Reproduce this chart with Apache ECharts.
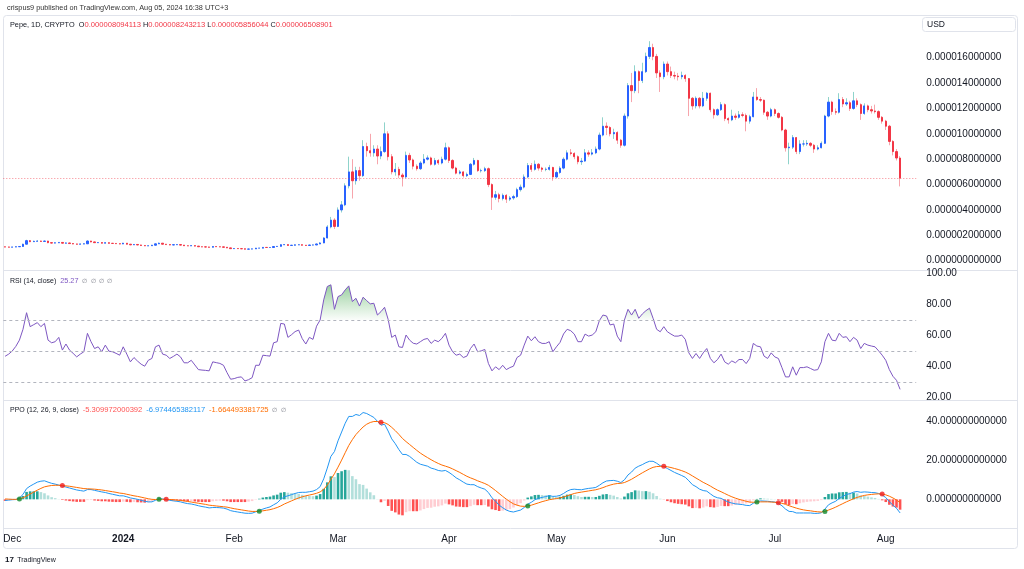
<!DOCTYPE html>
<html>
<head>
<meta charset="utf-8">
<script src="https://cdn.jsdelivr.net/npm/echarts@6/dist/echarts.min.js"></script>
<style>
html,body{margin:0;padding:0;background:#fff;}
#chart{width:1024px;height:569px;}
</style>
</head>
<body>
<div id="chart"></div>
<script>
// ---- Data (prices in micro-USD, i.e. value x 1e-6 USD) ----
const firstDay = '2023-11-29';
const axisDays = 255; // 251 daily candles + empty right margin

const opens = [1.09,1.08,1.07,1.08,1.10,1.12,1.30,1.58,1.50,1.53,
1.55,1.52,1.55,1.42,1.39,1.41,1.44,1.38,1.40,1.35,
1.32,1.30,1.32,1.33,1.55,1.48,1.42,1.43,1.38,1.42,
1.37,1.36,1.34,1.32,1.38,1.30,1.25,1.28,1.24,1.20,
1.17,1.18,1.22,1.33,1.38,1.30,1.27,1.24,1.26,1.27,
1.23,1.18,1.17,1.19,1.15,1.10,1.09,1.08,1.06,1.12,
1.10,1.09,1.06,1.01,0.95,0.96,0.95,0.94,0.91,0.92,
0.93,0.99,0.99,1.05,1.04,1.04,1.12,1.13,1.26,1.27,
1.20,1.22,1.25,1.26,1.22,1.20,1.24,1.24,1.32,1.40,
1.79,2.66,3.20,2.70,4.00,4.40,5.90,7.00,6.30,7.10,
6.70,9.00,8.67,8.50,8.80,8.25,8.60,10.00,8.20,7.00,
7.20,6.75,6.60,8.30,7.94,7.45,7.25,7.70,8.00,8.10,
7.60,7.90,7.70,8.00,8.90,7.90,7.30,6.90,7.00,6.70,
6.80,7.60,7.90,7.10,7.10,7.25,6.00,5.00,5.20,4.90,
5.15,4.85,4.95,5.05,5.60,5.80,6.60,7.50,7.20,7.60,
7.30,7.20,7.20,7.35,6.60,6.95,7.30,8.00,8.50,8.45,
8.20,7.80,7.85,8.50,8.40,8.50,8.80,9.90,10.60,10.50,
10.00,10.10,9.50,9.10,11.40,13.80,13.40,14.90,14.20,14.90,
16.10,16.80,16.10,14.80,14.50,15.50,14.90,14.60,14.55,14.50,
14.60,14.35,12.80,12.20,12.80,12.20,12.80,13.20,11.90,11.50,
11.90,12.30,11.20,11.10,11.40,11.30,11.50,11.45,11.00,11.35,
12.90,12.70,12.65,11.70,11.40,11.90,11.60,11.30,10.30,8.90,
8.95,9.70,8.60,9.20,9.20,9.25,9.10,8.80,8.90,9.25,
11.40,12.50,11.75,11.70,12.70,12.35,12.45,12.00,12.60,12.30,
11.60,12.20,11.90,11.80,11.75,11.30,11.00,10.60,9.40,8.60,
8.094113];

const highs = [1.11,1.10,1.10,1.12,1.15,1.34,1.65,1.63,1.58,1.62,
1.58,1.59,1.57,1.45,1.44,1.47,1.46,1.43,1.42,1.37,
1.34,1.35,1.36,1.60,1.57,1.50,1.47,1.45,1.45,1.44,
1.40,1.38,1.36,1.41,1.39,1.32,1.31,1.30,1.26,1.22,
1.21,1.25,1.36,1.43,1.39,1.32,1.29,1.28,1.30,1.29,
1.24,1.20,1.22,1.20,1.16,1.12,1.11,1.10,1.14,1.13,
1.12,1.10,1.07,1.02,0.98,0.98,0.97,0.95,0.94,0.95,
1.01,1.02,1.07,1.07,1.06,1.14,1.16,1.30,1.31,1.28,
1.25,1.28,1.29,1.27,1.24,1.26,1.27,1.35,1.46,1.85,
2.80,3.45,3.35,4.20,4.70,6.10,8.20,8.00,7.40,7.40,
9.50,9.30,10.00,9.10,9.10,9.00,10.90,10.20,8.40,7.70,
7.40,6.90,8.60,8.50,8.05,7.60,7.85,8.40,8.30,8.20,
8.10,8.00,8.20,9.30,9.00,8.00,7.40,7.15,7.05,6.95,
7.70,8.10,7.95,7.25,7.40,7.35,6.10,5.50,5.35,5.30,
5.25,5.10,5.20,5.75,6.00,6.80,7.70,7.70,7.90,7.70,
7.40,7.35,7.55,7.40,7.10,7.45,8.15,8.70,8.80,8.55,
8.30,8.10,8.80,8.70,8.80,9.00,10.10,11.30,10.90,10.60,
10.40,10.20,9.60,11.60,14.00,14.80,15.40,15.00,15.60,16.40,
17.30,17.10,16.30,15.00,15.70,15.70,15.30,14.90,14.80,14.90,
14.70,14.40,12.90,12.95,12.90,13.30,13.30,13.25,12.00,12.00,
12.50,12.40,11.30,11.90,11.60,11.80,11.70,11.60,11.50,13.30,
13.60,12.90,12.70,11.80,12.05,12.00,11.70,11.40,10.40,9.30,
9.90,9.75,9.50,9.50,9.50,9.35,9.20,9.10,9.40,11.50,
12.90,12.60,12.00,13.20,12.90,12.80,12.60,13.30,12.80,12.40,
12.40,12.30,12.20,12.30,11.85,11.40,11.10,10.70,9.50,8.80,
8.243213];

const lows = [1.06,1.05,1.06,1.07,1.09,1.11,1.28,1.46,1.47,1.50,
1.48,1.49,1.38,1.36,1.37,1.39,1.36,1.36,1.33,1.30,
1.27,1.29,1.30,1.32,1.45,1.40,1.40,1.36,1.37,1.35,
1.34,1.32,1.29,1.31,1.28,1.22,1.24,1.22,1.18,1.15,
1.15,1.17,1.21,1.31,1.28,1.25,1.22,1.22,1.24,1.21,
1.16,1.15,1.16,1.13,1.08,1.07,1.06,1.04,1.05,1.08,
1.07,1.04,0.99,0.93,0.93,0.93,0.92,0.89,0.90,0.90,
0.92,0.97,0.98,1.02,1.02,1.03,1.10,1.12,1.23,1.18,
1.18,1.20,1.23,1.20,1.18,1.19,1.21,1.23,1.30,1.38,
1.75,2.55,2.50,2.65,3.80,4.30,5.70,4.90,6.00,6.30,
6.60,8.20,8.20,8.20,7.60,8.00,8.50,7.90,6.80,6.70,
6.50,5.85,6.50,7.70,7.20,7.10,7.15,7.60,7.90,7.50,
7.50,7.55,7.60,7.90,7.70,7.20,6.80,6.80,6.55,6.60,
6.75,7.50,7.00,6.95,7.00,5.80,4.00,4.80,4.60,4.75,
4.55,4.70,4.80,4.95,5.45,5.70,6.50,7.00,7.10,7.10,
7.00,7.05,7.10,6.30,6.50,6.85,7.20,7.90,8.30,8.00,
7.60,7.55,7.80,8.20,8.30,8.40,8.70,9.80,9.90,9.80,
9.60,9.20,8.90,9.00,11.20,12.50,13.20,13.20,14.00,14.80,
15.90,15.80,14.40,13.30,14.30,14.60,14.40,14.30,14.20,14.30,
14.10,11.40,11.90,12.00,12.00,12.10,12.60,11.70,11.20,11.40,
11.80,11.00,10.80,11.00,11.10,11.20,11.30,10.20,10.80,11.30,
12.60,12.50,11.50,11.10,11.30,11.40,11.20,10.20,8.60,7.60,
8.80,8.40,8.40,9.00,9.05,8.95,8.50,8.70,8.85,9.20,
11.30,11.50,11.50,11.60,12.10,12.20,11.80,11.90,12.10,11.10,
11.50,11.70,11.60,11.60,11.10,10.80,10.30,9.10,8.30,7.90,
5.856044];

const closes = [1.08,1.07,1.08,1.10,1.12,1.30,1.58,1.50,1.53,1.55,
1.52,1.55,1.42,1.39,1.41,1.44,1.38,1.40,1.35,1.32,
1.30,1.32,1.33,1.55,1.48,1.42,1.43,1.38,1.42,1.37,
1.36,1.34,1.32,1.38,1.30,1.25,1.28,1.24,1.20,1.17,
1.18,1.22,1.33,1.38,1.30,1.27,1.24,1.26,1.27,1.23,
1.18,1.17,1.19,1.15,1.10,1.09,1.08,1.06,1.12,1.10,
1.09,1.06,1.01,0.95,0.96,0.95,0.94,0.91,0.92,0.93,
0.99,0.99,1.05,1.04,1.04,1.12,1.13,1.26,1.27,1.20,
1.22,1.25,1.26,1.22,1.20,1.24,1.24,1.32,1.40,1.79,
2.66,3.20,2.70,4.00,4.40,5.90,7.00,6.30,7.10,6.70,
9.00,8.67,8.50,8.80,8.25,8.60,10.00,8.20,7.00,7.20,
6.75,6.60,8.30,7.94,7.45,7.25,7.70,8.00,8.10,7.60,
7.90,7.70,8.00,8.90,7.90,7.30,6.90,7.00,6.70,6.80,
7.60,7.90,7.10,7.10,7.25,6.00,5.00,5.20,4.90,5.15,
4.85,4.95,5.05,5.60,5.80,6.60,7.50,7.20,7.60,7.30,
7.20,7.20,7.35,6.60,6.95,7.30,8.00,8.50,8.45,8.20,
7.80,7.85,8.50,8.40,8.50,8.80,9.90,10.60,10.50,10.00,
10.10,9.50,9.10,11.40,13.80,13.40,14.90,14.20,14.90,16.10,
16.80,16.10,14.80,14.50,15.50,14.90,14.60,14.55,14.50,14.60,
14.35,12.80,12.20,12.80,12.20,12.80,13.20,11.90,11.50,11.90,
12.30,11.20,11.10,11.40,11.30,11.50,11.45,11.00,11.35,12.90,
12.70,12.65,11.70,11.40,11.90,11.60,11.30,10.30,8.90,8.95,
9.70,8.60,9.20,9.20,9.25,9.10,8.80,8.90,9.25,11.40,
12.50,11.75,11.70,12.70,12.35,12.45,12.00,12.60,12.30,11.60,
12.20,11.90,11.80,11.75,11.30,11.00,10.60,9.40,8.60,8.094113,
6.508901];

const rsi = [46.6,48,50,53,57,64,74.7,65.7,67,68.3,
65.7,67.8,57,55.3,56,58.8,50.6,54.5,50.6,48.5,
46.2,48,49.5,61.4,56,51.6,52.7,49.5,53.8,49.9,
49.5,48.5,47.3,52.7,48,43,45.8,43.5,41.5,40.2,
44,45.2,52.7,53.8,48,47.3,45.2,46.5,48,46.2,
42.4,42.4,44,41,38,37.7,37.5,37.2,43,42.5,
42,40.8,36,31.8,32.2,33,33.3,30.7,31.5,32.8,
40.8,40.8,47.3,47,46.7,55.3,56,67.8,67.4,58.8,
60.5,62.5,63.5,58,54.5,58.8,57.5,66,70,83,
91.6,92.7,76.9,85.1,86.2,89.4,92,81.9,84,79,
84.7,82.5,80.4,80.8,73.2,75.4,78.2,70.4,58.8,60.3,
52.7,52.3,60.3,57,55,54.5,56,57.5,58.1,54.9,
57,56,58.1,61.4,53.8,49.5,47.3,48,45.8,46.7,
51.6,54.5,49.5,50.1,51,42,37.2,39.8,38,40.8,
38,39.3,40.2,45.8,47.3,53.8,59.6,56.6,59.2,56,
54.9,54.9,56,49.5,52.7,55.5,61,64,63.1,60.9,
56,56,60.9,59.6,60.3,62.4,69.6,73.2,72.6,66.8,
67.4,59.6,56,70,76.9,73.2,76.9,71.1,73.9,76,
77.6,71.1,64,62.4,65.7,62.4,60.9,59.6,59.6,60.3,
57.5,48.8,45.2,48.4,45.2,48.8,51.6,45.2,42.4,44.5,
48,43,41.5,43.6,42.4,44.5,44.5,41.9,45.2,54.9,
53.2,52.7,46.7,45.2,48.8,46.2,45.2,39.3,33.3,33.3,
39.8,34.4,39.3,39.3,39.8,38.7,37.6,38,43,56,
61.4,57,56.6,61.4,58.8,59.2,56,58.8,57,51.6,
54.9,53.8,53.2,52.7,50.1,47.3,44,38,33.7,31.1,
25.27];

const ppo = [-0.6,-0.4,-0.2,-0.1,0.7,2.5,5.5,6.8,7.8,8.8,
9.3,9.5,8.8,8.2,7.8,7.3,6.8,6.3,5.8,5.3,
4.8,4.5,4.2,5.0,5.0,4.6,4.2,3.8,3.5,3.0,
2.6,2.2,1.8,1.8,1.3,0.7,0.4,0.0,-0.5,-1.0,
-1.3,-1.3,-0.5,0.3,0.2,-0.1,-0.5,-0.8,-1.0,-1.3,
-1.8,-2.2,-2.4,-2.8,-3.3,-3.7,-4.0,-4.4,-4.2,-4.2,
-4.3,-4.5,-5.0,-5.8,-6.2,-6.5,-6.8,-7.1,-7.2,-7.1,
-6.4,-5.8,-5.0,-4.4,-3.9,-2.8,-1.8,0.0,1.3,1.8,
2.4,3.0,3.5,3.6,3.6,3.9,4.2,5.0,6.5,10.5,
16.0,22.0,24.5,30.0,34.5,39.0,42.5,42.5,43.5,43.0,
44.5,44.0,43.0,42.0,40.0,38.0,38.5,35.0,31.0,28.5,
25.5,23.0,23.0,22.0,20.5,19.0,18.0,17.5,17.0,16.0,
15.5,14.8,14.5,14.8,13.8,12.5,11.0,10.0,8.8,7.8,
7.5,7.5,6.5,5.8,5.2,3.5,0.8,-1.0,-3.0,-4.3,
-5.5,-6.2,-6.5,-6.0,-5.5,-4.2,-2.5,-1.5,-0.2,0.5,
1.0,1.4,1.9,1.5,1.6,2.0,3.0,4.2,5.0,5.2,
5.0,4.9,5.3,5.6,5.8,6.1,7.2,8.5,9.4,9.6,
9.7,9.3,8.6,10.0,12.5,14.0,16.0,17.0,17.8,18.8,
19.5,19.5,18.5,17.2,16.8,15.8,14.8,13.8,13.0,12.2,
11.3,9.5,7.5,6.5,5.2,4.5,4.2,2.8,1.5,0.8,
0.5,-0.5,-1.4,-1.9,-2.3,-2.5,-2.7,-3.1,-3.2,-2.0,
-1.2,-0.8,-0.9,-1.0,-1.2,-1.4,-2.1,-3.3,-5.0,-6.2,
-6.3,-7.0,-7.0,-7.0,-7.0,-7.0,-7.2,-7.2,-6.9,-5.0,
-2.8,-1.8,-1.0,0.5,1.5,2.5,2.9,3.7,4.0,3.6,
3.8,3.7,3.5,3.4,3.0,2.2,0.9,-1.2,-3.0,-4.6,
-6.974465382117];

const ppoSignal = [0.2,0.1,0.0,0.0,0.2,0.8,1.7,2.7,3.7,4.7,
5.6,6.4,6.8,7.1,7.2,7.2,7.1,6.9,6.7,6.4,
6.1,5.8,5.5,5.4,5.3,5.2,5.0,4.8,4.5,4.2,
3.9,3.6,3.2,3.0,2.6,2.2,1.8,1.5,1.1,0.7,
0.3,0.0,-0.1,0.0,0.0,0.0,-0.1,-0.2,-0.4,-0.6,
-0.8,-1.1,-1.4,-1.7,-2.0,-2.3,-2.6,-3.0,-3.2,-3.4,
-3.6,-3.8,-4.0,-4.4,-4.8,-5.1,-5.4,-5.7,-6.0,-6.2,
-6.2,-6.1,-5.9,-5.6,-5.3,-4.8,-4.2,-3.4,-2.4,-1.6,
-0.8,0.0,0.7,1.3,1.8,2.2,2.6,3.1,3.8,5.1,
7.3,10.2,13.1,16.5,20.1,23.9,27.6,30.6,33.2,35.2,
37.1,38.5,39.4,39.9,39.9,39.5,39.3,38.4,36.9,35.2,
33.3,31.2,29.6,28.1,26.6,25.1,23.7,22.5,21.4,20.3,
19.3,18.4,17.6,17.0,16.4,15.6,14.7,13.8,12.8,11.8,
11.0,10.3,9.5,8.8,8.1,7.2,5.9,4.5,3.0,1.5,
0.1,-1.2,-2.3,-3.0,-3.5,-3.6,-3.4,-3.0,-2.4,-1.8,
-1.2,-0.7,-0.2,0.1,0.4,0.7,1.2,1.8,2.4,3.0,
3.4,3.7,4.0,4.3,4.6,4.9,5.4,6.0,6.7,7.3,
7.8,8.1,8.2,8.6,9.4,10.3,11.4,12.5,13.6,14.6,
15.6,16.4,16.8,16.9,16.9,16.7,16.3,15.8,15.3,14.7,
14.0,13.1,12.0,10.9,9.8,8.7,7.8,6.8,5.7,4.7,
3.9,3.0,2.1,1.3,0.6,0.0,-0.5,-1.0,-1.4,-1.5,
-1.4,-1.3,-1.3,-1.3,-1.4,-1.5,-1.7,-2.0,-2.6,-3.3,
-3.9,-4.5,-5.0,-5.4,-5.7,-5.9,-6.2,-6.4,-6.5,-6.2,
-5.5,-4.8,-4.0,-3.1,-2.2,-1.3,-0.5,0.3,1.0,1.5,
2.0,2.3,2.5,2.7,2.8,2.7,2.3,1.6,0.7,-0.36,
-1.664493381725];

const ppoHist = [-0.8,-0.5,-0.2,-0.1,0.5,1.7,3.8,4.1,4.1,4.1,
3.7,3.1,2.0,1.1,0.6,0.1,-0.3,-0.6,-0.9,-1.1,
-1.3,-1.3,-1.3,-0.4,-0.3,-0.6,-0.8,-1.0,-1.0,-1.2,
-1.3,-1.4,-1.4,-1.2,-1.3,-1.5,-1.4,-1.5,-1.6,-1.7,
-1.6,-1.3,-0.4,0.3,0.2,-0.1,-0.4,-0.6,-0.6,-0.7,
-1.0,-1.1,-1.0,-1.1,-1.3,-1.4,-1.4,-1.4,-1.0,-0.8,
-0.7,-0.7,-1.0,-1.4,-1.4,-1.4,-1.4,-1.4,-1.2,-0.9,
-0.2,0.3,0.9,1.2,1.4,2.0,2.4,3.4,3.7,3.4,
3.2,3.0,2.8,2.3,1.8,1.7,1.6,1.9,2.7,5.4,
8.7,11.8,11.4,13.5,14.4,15.1,14.9,11.9,10.3,7.8,
7.4,5.5,3.6,2.1,0.1,-1.5,-0.8,-3.4,-5.9,-6.7,
-7.8,-8.2,-6.6,-6.1,-6.1,-6.1,-5.7,-5.0,-4.4,-4.3,
-3.8,-3.6,-3.1,-2.2,-2.6,-3.1,-3.7,-3.8,-4.0,-4.0,
-3.5,-2.8,-3.0,-3.0,-2.9,-3.7,-5.1,-5.5,-6.0,-5.8,
-5.6,-5.0,-4.2,-3.0,-2.0,-0.6,0.9,1.5,2.2,2.3,
2.2,2.1,2.1,1.4,1.2,1.3,1.8,2.4,2.6,2.2,
1.6,1.2,1.3,1.3,1.2,1.2,1.8,2.5,2.7,2.3,
1.9,1.2,0.4,1.4,3.1,3.7,4.6,4.5,4.2,4.2,
3.9,3.1,1.7,0.3,-0.1,-0.9,-1.5,-2.0,-2.3,-2.5,
-2.7,-3.6,-4.5,-4.4,-4.6,-4.2,-3.6,-4.0,-4.2,-3.9,
-3.4,-3.5,-3.5,-3.2,-2.9,-2.5,-2.2,-2.1,-1.8,-0.5,
0.2,0.5,0.4,0.3,0.2,0.1,-0.4,-1.3,-2.4,-2.9,
-2.4,-2.5,-2.0,-1.6,-1.3,-1.1,-1.0,-0.8,-0.4,1.2,
2.7,3.0,3.0,3.6,3.7,3.8,3.4,3.4,3.0,2.1,
1.8,1.4,1.0,0.7,0.2,-0.5,-1.4,-2.8,-3.7,-4.24,
-5.309972000392];

const priceTicks = [0, 2, 4, 6, 8, 10, 12, 14, 16];
const rsiTicks = [20, 40, 60, 80, 100];
const ppoTicks = [0, 20, 40];
const rsiLevels = [70, 50, 30];
const monthNames = ['Jan','Feb','Mar','Apr','May','Jun','Jul','Aug','Sep','Oct','Nov','Dec'];

// ---- Helpers ----
const FONT = "'Liberation Sans', Arial, sans-serif";
const toUSD = v => (v / 1e6).toFixed(12);
const last = closes.length - 1;

const dates = [];
{
  const [y, m, d] = firstDay.split('-').map(Number);
  const t0 = Date.UTC(y, m - 1, d);
  for (let i = 0; i < axisDays; i++) dates.push(new Date(t0 + i * 86400000).toISOString().slice(0, 10));
}

const wickData = opens.map((o, i) => [o, closes[i], lows[i], highs[i]]);
const bodyData = opens.map((o, i) => [o, closes[i], Math.min(o, closes[i]), Math.max(o, closes[i])]);

const rsiBase = rsi.map(() => rsiLevels[0]);
const rsiOver = rsi.map(v => Math.max(v - rsiLevels[0], 0));

const histData = ppoHist.map((v, i) => {
  const prev = i > 0 ? ppoHist[i - 1] : v;
  let c;
  if (v >= 0) c = v >= prev ? '#26A69A' : '#B2DFDB';
  else c = v <= prev ? '#FF5252' : '#FFCDD2';
  return { value: v, itemStyle: { color: c } };
});

const crossDots = [];
for (let i = 1; i < ppoHist.length; i++) {
  if ((ppoHist[i] >= 0) !== (ppoHist[i - 1] >= 0)) {
    crossDots.push({ value: [i, ppoSignal[i]], itemStyle: { color: ppoHist[i] >= 0 ? '#0E8A2E' : '#F01E1E' } });
  }
}

const gridLeft = 3.3, gridWidth = 912.9;
const hiddenY = { splitLine: { show: false }, axisLine: { show: false }, axisTick: { show: false } };
const labelBase = { fontSize: 10, color: '#131722', fontFamily: FONT, margin: 10 };

const chart = echarts.init(document.getElementById('chart'), null, { renderer: 'canvas' });

const option = {
  animation: false,
  backgroundColor: '#ffffff',
  textStyle: { fontFamily: FONT },
  grid: [
    { left: gridLeft, width: gridWidth, top: 20, height: 248 },
    { left: gridLeft, width: gridWidth, top: 271, height: 129 },
    { left: gridLeft, width: gridWidth, top: 402, height: 126 }
  ],
  xAxis: [0, 1, 2].map(g => ({
    type: 'category', gridIndex: g, data: dates, boundaryGap: true,
    axisLine: { show: false }, axisTick: { show: false }, splitLine: { show: false },
    axisLabel: g === 2 ? {
      show: true, fontSize: 10, color: '#131722', fontFamily: FONT, margin: 6,
      interval: (idx, val) => val.slice(8) === '01',
      formatter: val => {
        const m = Number(val.slice(5, 7));
        return m === 1 ? '{b|' + val.slice(0, 4) + '}' : monthNames[m - 1];
      },
      rich: { b: { fontWeight: 'bold', fontSize: 10, color: '#131722', fontFamily: FONT } }
    } : { show: false }
  })),
  yAxis: [
    Object.assign({ type: 'value', gridIndex: 0, position: 'right', min: -0.575, max: 18.97,
      axisLabel: Object.assign({ customValues: priceTicks, formatter: v => toUSD(v) }, labelBase) }, hiddenY),
    Object.assign({ type: 'value', gridIndex: 1, position: 'right', min: 18.4, max: 101.6,
      axisLabel: Object.assign({ customValues: rsiTicks, formatter: v => v.toFixed(2) }, labelBase) }, hiddenY),
    Object.assign({ type: 'value', gridIndex: 2, position: 'right', min: -14.7, max: 49.9,
      axisLabel: Object.assign({ customValues: ppoTicks, formatter: v => v.toFixed(12) }, labelBase) }, hiddenY)
  ],
  series: [
    {
      name: 'wicks', type: 'candlestick', xAxisIndex: 0, yAxisIndex: 0, data: wickData, barWidth: 1,
      itemStyle: { color: '#8FD3CB', color0: '#F7A5AC', borderColor: '#8FD3CB', borderColor0: '#F7A5AC', borderWidth: 1 },
      z: 2
    },
    {
      name: 'bodies', type: 'candlestick', xAxisIndex: 0, yAxisIndex: 0, data: bodyData, barWidth: 1.8,
      itemStyle: { color: '#2962FF', color0: '#F23645', borderColor: '#2962FF', borderColor0: '#F23645', borderWidth: 1 },
      markLine: {
        silent: true, symbol: ['none', 'none'], label: { show: false },
        lineStyle: { color: '#F23645', type: [1, 2], width: 1, opacity: 0.6 },
        data: [{ yAxis: closes[last] }]
      },
      z: 3
    },
    {
      name: 'rsiBase', type: 'line', xAxisIndex: 1, yAxisIndex: 1, data: rsiBase, stack: 'ob',
      symbol: 'none', lineStyle: { width: 0, opacity: 0 }, silent: true, z: 1
    },
    {
      name: 'rsiFill', type: 'line', xAxisIndex: 1, yAxisIndex: 1, data: rsiOver, stack: 'ob',
      symbol: 'none', lineStyle: { width: 0, opacity: 0 }, silent: true, z: 1,
      areaStyle: {
        color: new echarts.graphic.LinearGradient(0, 0, 0, 1, [
          { offset: 0, color: 'rgba(56,160,70,0.75)' },
          { offset: 1, color: 'rgba(76,175,80,0.04)' }
        ])
      }
    },
    {
      name: 'RSI', type: 'line', xAxisIndex: 1, yAxisIndex: 1, data: rsi,
      symbol: 'none', lineStyle: { color: '#7E57C2', width: 1 }, z: 3,
      markLine: {
        silent: true, symbol: ['none', 'none'], label: { show: false },
        lineStyle: { color: '#B2B5BE', type: [3, 3], width: 1 },
        data: rsiLevels.map(v => ({ yAxis: v }))
      }
    },
    {
      name: 'Histogram', type: 'bar', xAxisIndex: 2, yAxisIndex: 2, data: histData, barWidth: 2.6, z: 1
    },
    {
      name: 'PPO', type: 'line', xAxisIndex: 2, yAxisIndex: 2, data: ppo,
      symbol: 'none', lineStyle: { color: '#2196F3', width: 1 }, z: 3
    },
    {
      name: 'Signal', type: 'line', xAxisIndex: 2, yAxisIndex: 2, data: ppoSignal,
      symbol: 'none', lineStyle: { color: '#FF6D00', width: 1 }, z: 3
    },
    {
      name: 'Cross', type: 'scatter', xAxisIndex: 2, yAxisIndex: 2, data: crossDots,
      symbolSize: 5, z: 4
    }
  ],
  graphic: [
    { type: 'rect', z: 0, silent: true, shape: { x: 3.5, y: 15.5, width: 1014, height: 533, r: 3 }, style: { fill: 'none', stroke: '#E0E3EB', lineWidth: 1 } },
    { type: 'line', z: 0, silent: true, shape: { x1: 3.5, y1: 270.5, x2: 1017.5, y2: 270.5 }, style: { stroke: '#E0E3EB', lineWidth: 1 } },
    { type: 'line', z: 0, silent: true, shape: { x1: 3.5, y1: 400.5, x2: 1017.5, y2: 400.5 }, style: { stroke: '#E0E3EB', lineWidth: 1 } },
    { type: 'line', z: 0, silent: true, shape: { x1: 3.5, y1: 528.5, x2: 1017.5, y2: 528.5 }, style: { stroke: '#E0E3EB', lineWidth: 1 } },
    { type: 'rect', z: 10, silent: true, shape: { x: 922.5, y: 17.5, width: 93, height: 14, r: 3 }, style: { fill: '#fff', stroke: '#E0E3EB', lineWidth: 1 } },
    { type: 'text', z: 11, silent: true, style: { x: 927, y: 24.5, text: 'USD', fontSize: 8.5, fill: '#131722', fontFamily: FONT, verticalAlign: 'middle' } },
    { type: 'text', z: 11, silent: true, style: { x: 7, y: 8, text: 'crispus9 published on TradingView.com, Aug 05, 2024 16:38 UTC+3', fontSize: 7.3, fill: '#333333', fontFamily: FONT, verticalAlign: 'middle' } },
    { type: 'text', z: 11, silent: true, style: {
      x: 10, y: 24.5, verticalAlign: 'middle', fontFamily: FONT, fontSize: 7.5,
      text: '{n|Pepe, 1D, CRYPTO}  {n|O}{v|' + toUSD(opens[last]) + '} {n|H}{v|' + toUSD(highs[last]) + '} {n|L}{v|' + toUSD(lows[last]) + '} {n|C}{v|' + toUSD(closes[last]) + '}',
      rich: { n: { fill: '#131722', fontSize: 7.3, fontFamily: FONT }, v: { fill: '#F23645', fontSize: 7.6, fontFamily: FONT } }
    } },
    { type: 'text', z: 11, silent: true, style: {
      x: 10, y: 281, verticalAlign: 'middle', fontFamily: FONT, fontSize: 7,
      text: '{n|RSI (14, close)}  {r|' + rsi[last].toFixed(2) + '}  {g|∅  ∅  ∅  ∅}',
      rich: { n: { fill: '#131722', fontSize: 7, fontFamily: FONT }, r: { fill: '#7E57C2', fontSize: 7.3, fontFamily: FONT }, g: { fill: '#787B86', fontSize: 6, fontFamily: FONT } }
    } },
    { type: 'text', z: 11, silent: true, style: {
      x: 10, y: 410, verticalAlign: 'middle', fontFamily: FONT, fontSize: 7,
      text: '{n|PPO (12, 26, 9, close)}  {h|' + ppoHist[last].toFixed(12) + '}  {p|' + ppo[last].toFixed(12) + '}  {s|' + ppoSignal[last].toFixed(12) + '}  {g|∅  ∅}',
      rich: { n: { fill: '#131722', fontSize: 7, fontFamily: FONT }, h: { fill: '#FF5252', fontSize: 7.6, fontFamily: FONT }, p: { fill: '#2196F3', fontSize: 7.6, fontFamily: FONT }, s: { fill: '#FF6D00', fontSize: 7.6, fontFamily: FONT }, g: { fill: '#787B86', fontSize: 6, fontFamily: FONT } }
    } },
    { type: 'text', z: 11, silent: true, style: {
      x: 5, y: 560, verticalAlign: 'middle', fontFamily: FONT,
      text: '{l|17} {t|TradingView}',
      rich: { l: { fill: '#131722', fontSize: 8, fontWeight: 'bold', fontFamily: FONT }, t: { fill: '#131722', fontSize: 7, fontFamily: FONT } }
    } }
  ]
};

chart.setOption(option);
</script>
</body>
</html>
